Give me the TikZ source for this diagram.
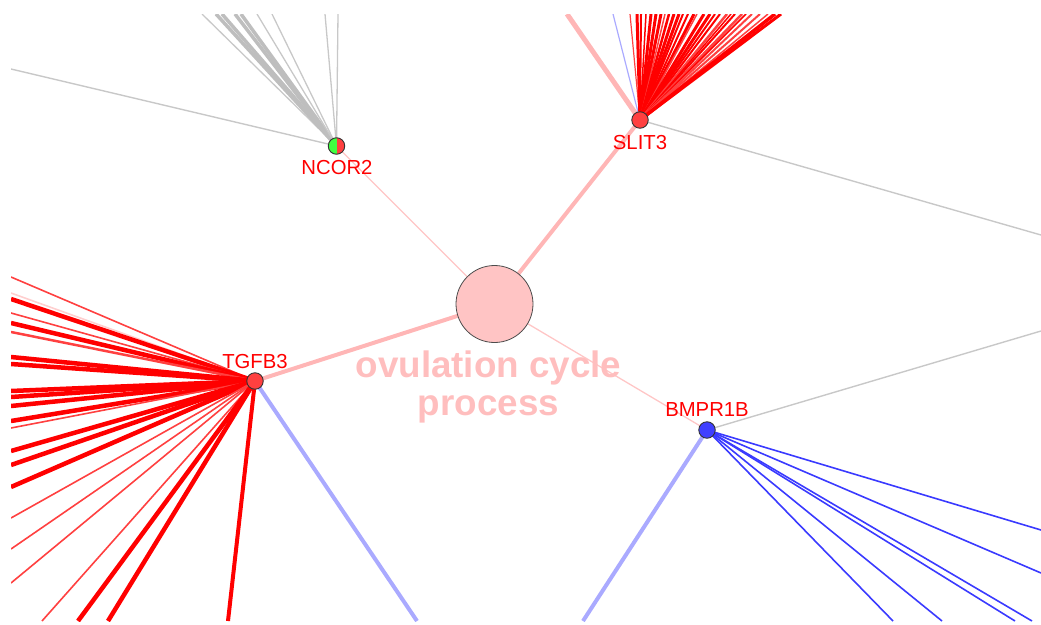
\documentclass[tikz,border=0pt]{standalone}
\usepackage{fontspec}
\setmainfont{Liberation Sans}
\usetikzlibrary{backgrounds}

\definecolor{nodered}{HTML}{FF4040}
\definecolor{nodeblue}{HTML}{4040FF}
\definecolor{nodegreen}{HTML}{40FF40}
\definecolor{edgered}{HTML}{FF0000}
\definecolor{edgeredthin}{HTML}{FF4040}
\definecolor{edgeredpale}{HTML}{FFCFCF}
\definecolor{edgeblue}{HTML}{3A3AFF}
\definecolor{edgebluepale}{HTML}{AAAAFF}
\definecolor{edgegray}{HTML}{C8C8C8}
\definecolor{edgegraydark}{HTML}{BEBEBE}
\definecolor{termpink}{HTML}{FFC4C4}
\definecolor{termedge}{HTML}{FFB6B6}
\definecolor{termedgethin}{HTML}{FFC6C6}
\definecolor{termtext}{HTML}{FFBEBE}

\tikzset{
  genenode/.style={circle, draw=black!80, line width=0.9pt, minimum size=16.5pt, inner sep=0pt},
  genelabel/.style={text=edgered, font=\fontsize{20.3}{21}\selectfont, inner sep=0pt},
  termnode/.style={circle, draw=black!70, line width=0.8pt, fill=termpink, minimum size=77pt, inner sep=0pt},
  termlabel/.style={text=termtext, font=\bfseries\fontsize{36.8}{38}\selectfont, inner sep=0pt, anchor=base},
  link/.style={line cap=butt},
}

\begin{document}
\begin{tikzpicture}[x=1pt, y=-1pt]
\useasboundingbox (0,0) rectangle (1041,624);

% term and gene nodes
\node[termnode] (term) at (494.5,304) {};
\node[genenode, fill=nodered,
      path picture={\fill[nodegreen] (path picture bounding box.south west) rectangle (path picture bounding box.north);}]
      (ncor2) at (336.5,146) {};
\node[genenode, fill=nodered] (slit3) at (640,120) {};
\node[genenode, fill=nodered] (tgfb3) at (255,381) {};
\node[genenode, fill=nodeblue] (bmpr1b) at (707,430) {};

% labels
\node[genelabel] (ncor2lab) at (337,168) {NCOR2};
\node[genelabel] (slit3lab) at (640,143) {SLIT3};
\node[genelabel] (tgfb3lab) at (255,362) {TGFB3};
\node[genelabel] (bmpr1blab) at (707,410) {BMPR1B};
\node[termlabel] (termlab1) at (488.5,377) {ovulation cycle};
\node[termlabel] (termlab2) at (488.5,415) {process};

% far ends of the partner edges, on the frame border
\coordinate (ncL) at (11,69);
\foreach \i/\x in {1/202,2/216,3/222,4/235,5/241,6/257,7/272,8/325,9/338}
  \coordinate (nc\i) at (\x,14);
\foreach \i/\x in {1/630,2/637,3/641,4/646,5/651,6/656,7/661,8/665,9/669,10/674,11/679,12/683,13/688,14/694,15/697,16/704,17/710,18/715,19/720,20/727,21/731,22/735,23/742,24/746,25/752,26/760,27/768,28/775,29/781}
  \coordinate (sl\i) at (\x,14);
\coordinate (slP) at (567,14);
\coordinate (slB) at (613,14);
\coordinate (slG) at (1041,235);
\foreach \i/\y in {1/277,2/293,3/299,4/313,5/323,6/332,7/357,8/364,9/391,10/397,11/406,12/421,13/428,14/451,15/465,16/487,17/518,18/549,19/583}
  \coordinate (tgL\i) at (11,\y);
\foreach \i/\x in {1/42,2/78,3/108,4/228}
  \coordinate (tgD\i) at (\x,621);
\coordinate (tgB) at (417,621);
\coordinate (bmB) at (583,621);
\coordinate (bmG) at (1041,331);
\coordinate (bm1) at (1041,530);
\coordinate (bm2) at (1041,573);
\foreach \i/\x in {3/893,4/942,5/1015,6/1032}
  \coordinate (bm\i) at (\x,621);

\begin{pgfonlayer}{background}
\begin{scope}
\clip (11,14) rectangle (1041,621);

% NCOR2 neighbours
\draw[link, edgegray, line width=1.4pt] (ncor2.center) -- (ncL);
\foreach \i/\w/\c in {1/1.3/edgegray,2/3.5/edgegraydark,3/3.5/edgegraydark,4/3.5/edgegraydark,5/3.5/edgegraydark,6/1.3/edgegray,7/1.3/edgegray,8/1.3/edgegray,9/1.3/edgegray}
  \draw[link, \c, line width=\w pt] (ncor2.center) -- (nc\i);

% SLIT3 neighbours
\draw[link, termedge, line width=5pt] (slit3.center) -- (slP);
\draw[link, edgebluepale, line width=1.2pt] (slit3.center) -- (slB);
\draw[link, edgegray, line width=1.4pt] (slit3.center) -- (slG);
\foreach \i/\w/\c in {1/1.2/edgeredthin,2/3/edgered,3/2/edgered,4/1.5/edgered,5/3/edgered,6/3/edgered,7/3/edgered,8/1.5/edgeredthin,9/2.5/edgered,10/3/edgered,11/3/edgered,12/2/edgered,13/2/edgered,14/3/edgered,15/1.5/edgeredthin,16/3/edgered,17/3/edgered,18/2/edgered,19/2/edgered,20/2.5/edgeredthin,21/1.5/edgered,22/2/edgered,23/2.5/edgeredthin,24/1.5/edgered,25/2/edgeredthin,26/2/edgeredthin,27/1.5/edgeredthin,28/3.5/edgered,29/3/edgered}
  \draw[link, \c, line width=\w pt] (slit3.center) -- (sl\i);

% TGFB3 neighbours
\foreach \i/\w/\c in {1/1.6/edgeredthin,2/1.6/edgeredpale,3/4.5/edgered,4/1.6/edgeredthin,5/4.5/edgered,6/2.5/edgeredthin,7/4.5/edgered,8/4.5/edgered,9/4.5/edgered,10/4.5/edgered,11/4.5/edgered,12/4.5/edgered,13/1.6/edgeredthin,14/4.5/edgered,15/4.5/edgered,16/4.5/edgered,17/1.6/edgeredthin,18/1.6/edgeredthin,19/1.6/edgeredthin}
  \draw[link, \c, line width=\w pt] (tgfb3.center) -- (tgL\i);
\foreach \i/\w/\c in {1/1.6/edgeredthin,2/4.5/edgered,3/4.5/edgered,4/4/edgered}
  \draw[link, \c, line width=\w pt] (tgfb3.center) -- (tgD\i);
\draw[link, edgebluepale, line width=4pt] (tgfb3.center) -- (tgB);

% BMPR1B neighbours
\draw[link, edgebluepale, line width=4pt] (bmpr1b.center) -- (bmB);
\draw[link, edgegray, line width=1.4pt] (bmpr1b.center) -- (bmG);
\foreach \i in {1,...,6}
  \draw[link, edgeblue, line width=1.6pt] (bmpr1b.center) -- (bm\i);

% term to genes
\draw[link, termedgethin, line width=1.3pt] (term.center) -- (ncor2.center);
\draw[link, termedge, line width=4pt] (term.center) -- (slit3.center);
\draw[link, termedge, line width=4pt] (term.center) -- (tgfb3.center);
\draw[link, termedgethin, line width=1.3pt] (term.center) -- (bmpr1b.center);
\end{scope}
\end{pgfonlayer}
\end{tikzpicture}
\end{document}
